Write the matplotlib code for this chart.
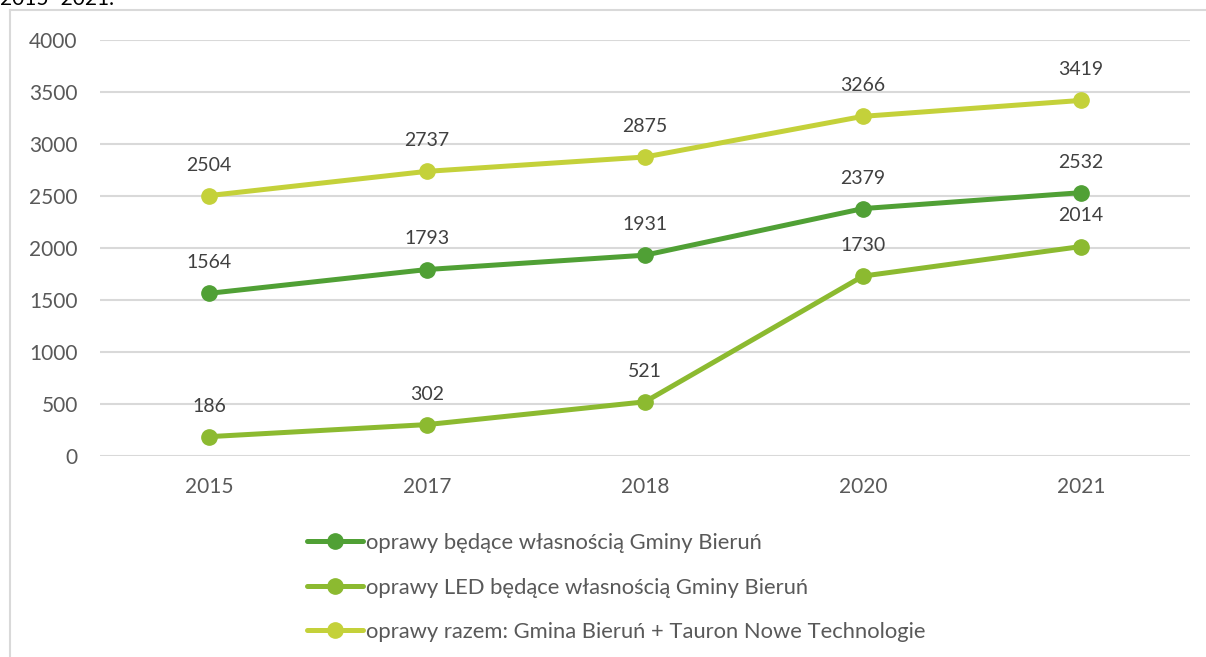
import matplotlib.pyplot as plt
from matplotlib.lines import Line2D

# Data
years = ['2015', '2017', '2018', '2020', '2021']
gmina = [1564, 1793, 1931, 2379, 2532]
gmina_led = [186, 302, 521, 1730, 2014]
razem = [2504, 2737, 2875, 3266, 3419]
labels = ['oprawy będące własnością Gminy Bieruń',
          'oprawy LED będące własnością Gminy Bieruń',
          'oprawy razem: Gmina Bieruń + Tauron Nowe Technologie']
colors = ['#50a035', '#8cba30', '#c4d13a']

plt.rcParams['font.family'] = ['Lato', 'DejaVu Sans']

W, H = 1206, 657
fig = plt.figure(figsize=(W / 100, H / 100), dpi=100)
ax = fig.add_axes([100 / W, 1 - 456 / H, 1090 / W, 416 / H])

x = range(len(years))
handles = []
for vals, col in zip([gmina, gmina_led, razem], colors):
    ln, = ax.plot(x, vals, color=col, lw=3.6, marker='o', markersize=11,
                  solid_capstyle='round', zorder=3)
    handles.append(ln)
    for xi, v in zip(x, vals):
        ax.annotate(str(v), (xi, v), xytext=(0, 22), textcoords='offset points',
                    ha='center', va='center', fontsize=14, color='#404040')

ax.set_xlim(-0.5, len(years) - 0.5)
ax.set_ylim(0, 4000)
ax.set_yticks(range(0, 4001, 500))
ax.set_xticks(list(x))
ax.set_xticklabels(years)
ax.grid(axis='y', color='#d9d9d9', lw=1.5)
ax.set_axisbelow(True)
for s in ax.spines.values():
    s.set_visible(False)
ax.tick_params(length=0, labelsize=15, colors='#595959')
ax.tick_params(axis='y', pad=16)
ax.tick_params(axis='x', pad=15)

fig.legend(handles, labels, loc='upper left',
           bbox_to_anchor=(296 / W, 1 - 522 / H), frameon=False,
           fontsize=15.8, handlelength=2.55, handletextpad=0.12,
           labelspacing=1.12, borderpad=0, labelcolor='#595959')

# frame around the chart
fig.add_artist(Line2D([10 / W, 10 / W], [0, 1 - 10 / H], transform=fig.transFigure,
                      color='#d9d9d9', lw=1.5))
fig.add_artist(Line2D([10 / W, 1], [1 - 10 / H, 1 - 10 / H], transform=fig.transFigure,
                      color='#d9d9d9', lw=1.5))

fig.text(0, 1 - 5 / H, '2015–2021.', fontsize=15, color='black', va='baseline')

fig.savefig('out.png', dpi=100)
